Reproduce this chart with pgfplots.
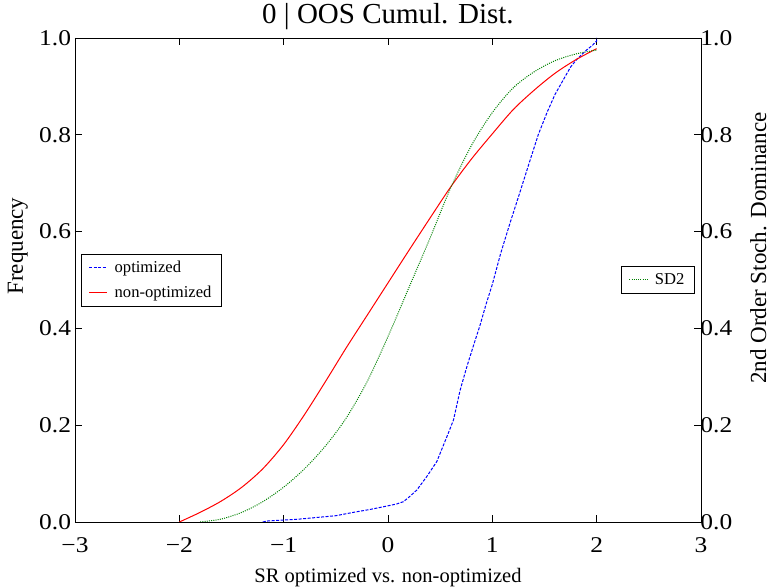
\documentclass[border=0pt]{standalone}
\usepackage{pgfplots}
\pgfplotsset{compat=1.18}
\usepackage{fontspec}
\setmainfont{Liberation Serif}
\definecolor{mplblue}{rgb}{0,0,1}
\definecolor{mplred}{rgb}{1,0,0}
\definecolor{mplgreen}{rgb}{0,0.5,0}
\begin{document}
\begin{tikzpicture}
\pgfplotsset{
  common/.style={
    scale only axis, width=626pt, height=484pt,
    xmin=-3, xmax=3, ymin=0, ymax=1,
    tick align=inside,
    major tick length=7pt,
    every tick/.style={black, line width=0.9pt},
    axis line style={line width=0.9pt, black},
    ytick={0,0.2,0.4,0.6,0.8,1.0},
    yticklabel style={/pgf/number format/fixed, /pgf/number format/fixed zerofill, /pgf/number format/precision=1, /pgf/number format/assume math mode=true},
    tick label style={font=\fontsize{22.5}{22.5}\selectfont, xscale=1.13},
    legend cell align=left,
    legend image code/.code={\draw[#1] (0pt,0pt) -- (18pt,0pt); \path (0pt,0pt) (22pt,0pt);},
    legend style={font=\fontsize{16.6}{20}\selectfont, draw=black, line width=0.8pt, inner xsep=7pt, inner ysep=6pt, row sep=10pt, nodes={inner xsep=3pt, inner ysep=1pt}},
  }
}
\begin{axis}[common, name=ax,
  xtick={-3,-2,-1,0,1,2,3},
  xticklabels={−3,−2,−1,0,1,2,3},
  xtick pos=both, ytick pos=left,
  xticklabel style={yshift=-12pt},
  title={0 | OOS Cumul. Dist.},
  title style={font=\fontsize{29}{29}\selectfont, at={(0.5,1)}, anchor=base, yshift=8.7pt},
  xlabel={SR optimized vs. non-optimized},
  xlabel style={font=\fontsize{20.5}{20.5}\selectfont, at={(0.5,0)}, anchor=base, yshift=-60pt},
  ylabel={Frequency},
  ylabel style={font=\fontsize{23}{23}\selectfont, at={(0,0.57)}, anchor=base, yshift=52pt},
  legend style={at={(0.01,0.5)}, anchor=west},
]
\addplot[draw=mplblue, line width=1pt, dash pattern=on 3pt off 1.5pt] coordinates {
(-1.20,0.000) (-1.16,0.002) (-1.00,0.004) (-0.85,0.006) (-0.65,0.010) (-0.50,0.013)
(-0.33,0.020) (-0.17,0.026) (-0.01,0.033) (0.08,0.037) (0.148,0.042) (0.21,0.053)
(0.276,0.066) (0.372,0.094) (0.468,0.125) (0.564,0.176) (0.628,0.211) (0.692,0.273)
(0.756,0.321) (0.82,0.365) (0.88,0.405) (0.94,0.450) (1.00,0.491) (1.08,0.555)
(1.17,0.618) (1.27,0.685) (1.364,0.749) (1.44,0.800) (1.524,0.846) (1.60,0.883)
(1.684,0.915) (1.75,0.940) (1.81,0.956) (1.908,0.976) (1.96,0.985) (2.00,0.994) (2.00,1.000)
};
\addlegendentry{optimized}
\addplot[draw=mplred, line width=1pt, smooth, tension=0.5] coordinates {
(-2.0,0.000) (-1.8,0.020) (-1.6,0.043) (-1.4,0.072) (-1.2,0.110) (-1.0,0.160)
(-0.8,0.222) (-0.6,0.290) (-0.4,0.360) (-0.2,0.427) (0.0,0.494) (0.2,0.561)
(0.4,0.627) (0.6,0.692) (0.8,0.750) (1.0,0.802) (1.2,0.852) (1.4,0.892)
(1.6,0.927) (1.8,0.955) (2.0,0.978)
};
\addlegendentry{non-optimized}
\end{axis}
\begin{axis}[common,
  axis x line=none, axis y line*=right,
  ytick pos=right, yticklabel pos=right,
  yticklabel style={xshift=-4pt},
  ylabel={2nd Order Stoch. Dominance},
  ylabel style={font=\fontsize{23}{23}\selectfont, at={(1,0.566)}, anchor=base, yshift=-65pt},
  legend style={at={(0.99,0.5)}, anchor=east},
]
\addplot[draw=mplgreen, line width=1pt, dash pattern=on 1pt off 1.2pt, smooth, tension=0.5] coordinates {
(-1.8,0.000) (-1.6,0.006) (-1.4,0.020) (-1.2,0.042) (-1.0,0.072) (-0.8,0.110)
(-0.6,0.157) (-0.4,0.215) (-0.2,0.290) (0.0,0.383) (0.2,0.484) (0.4,0.585)
(0.6,0.690) (0.8,0.778) (1.0,0.846) (1.2,0.897) (1.4,0.930) (1.6,0.953)
(1.8,0.967) (2.0,0.975)
};
\addlegendentry{SD2}
\end{axis}
\pgfresetboundingbox
\path ([shift={(-75pt,-66pt)}]ax.south west) rectangle ([shift={(69pt,38pt)}]ax.north east);
\end{tikzpicture}
\end{document}
